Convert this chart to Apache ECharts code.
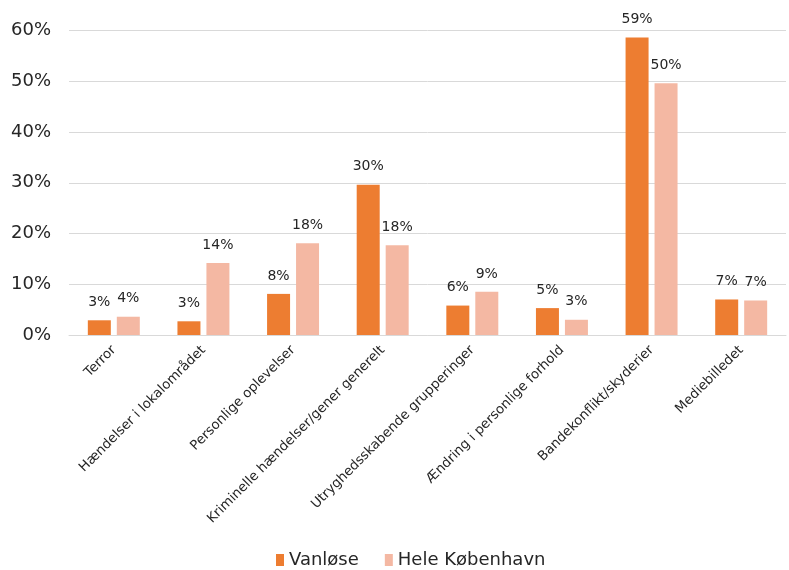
<!DOCTYPE html>
<html><head><meta charset="utf-8">
<script src="https://cdn.jsdelivr.net/npm/echarts@6/dist/echarts.min.js"></script>
<style>html,body{margin:0;padding:0;background:#fff}#c{width:789px;height:570px}</style>
</head><body><div id="c"></div>
<script>
const categories = ["Terror","Hændelser i lokalområdet","Personlige oplevelser","Kriminelle hændelser/gener generelt","Utryghedsskabende grupperinger","Ændring i personlige forhold","Bandekonflikt/skyderier","Mediebilledet"];
const vanlose = [2.9, 2.7, 8.1, 29.6, 5.8, 5.3, 58.6, 7.0];
const heleKbh = [3.6, 14.2, 18.1, 17.7, 8.5, 3.0, 49.6, 6.8];
const seriesNames = ["Vanløse", "Hele København"];
const yTicks = [0, 10, 20, 30, 40, 50, 60];

const font = "'DejaVu Sans', sans-serif";
const txt = '#262626';
const chart = echarts.init(document.getElementById('c'));
const lbl = {show: true, position: 'top', distance: 11, color: txt, fontSize: 14, fontFamily: font,
  formatter: p => Math.round(p.value) + '%'};
chart.setOption({
  animation: false,
  grid: {left: 69, right: 3, top: 30.5, bottom: 235},
  legend: {top: 551, left: 276, itemWidth: 8, itemHeight: 12, itemGap: 26, padding: 0,
    textStyle: {fontSize: 18, color: txt, fontFamily: font},
    data: seriesNames.map(n => ({name: n, icon: 'rect'}))},
  xAxis: {type: 'category', data: categories,
    axisLine: {show: true, lineStyle: {color: '#d9d9d9'}}, axisTick: {show: false},
    axisLabel: {rotate: 45, interval: 0, fontSize: 13.3, color: txt, fontFamily: font, margin: 13}},
  yAxis: {type: 'value', min: yTicks[0], max: yTicks[yTicks.length-1], interval: 10,
    axisLabel: {formatter: v => v + '%', fontSize: 18, color: txt, fontFamily: font, margin: 18},
    splitLine: {lineStyle: {color: '#d9d9d9', width: 1}},
    axisLine: {show: false}, axisTick: {show: false}},
  series: [
    {name: seriesNames[0], type: 'bar', data: vanlose, barWidth: 23, barGap: '26%',
      itemStyle: {color: '#ED7D31'}, label: lbl},
    {name: seriesNames[1], type: 'bar', data: heleKbh, barWidth: 23,
      itemStyle: {color: '#F4B8A3'}, label: lbl}
  ]
});
</script></body></html>
